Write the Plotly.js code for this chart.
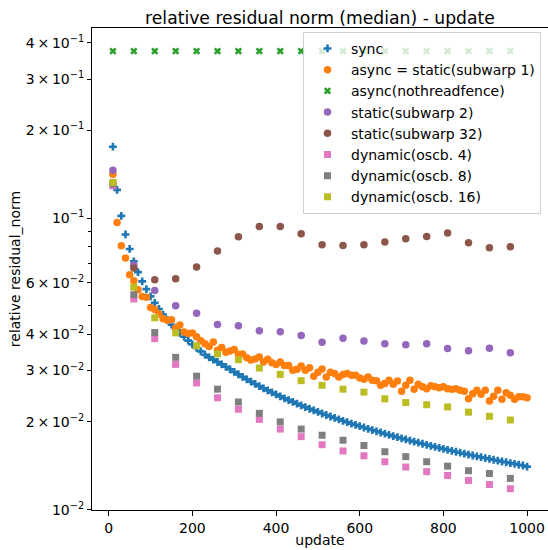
<!DOCTYPE html>
<html>
<head>
<meta charset="utf-8">
<script src="https://cdn.plot.ly/plotly-3.0.1.min.js"></script>
<style>html,body{margin:0;padding:0;background:#fff;}#chart{width:548px;height:550px;}</style>
</head>
<body>
<div id="chart"></div>
<script>
const xDense = [10,20,30,40,50,60,70,80,90,100,110,120,130,140,150,160,170,180,190,200,
210,220,230,240,250,260,270,280,290,300,310,320,330,340,350,360,370,380,390,400,
410,420,430,440,450,460,470,480,490,500,510,520,530,540,550,560,570,580,590,600,
610,620,630,640,650,660,670,680,690,700,710,720,730,740,750,760,770,780,790,800,
810,820,830,840,850,860,870,880,890,900,910,920,930,940,950,960,970,980,990,1000];
const xSparse = [10,60,110,160,210,260,310,360,410,460,510,560,610,660,710,760,810,860,910,960];

const syncVals = [0.1758,0.125,0.1018,0.0879,0.0784,0.0711,0.0653,0.0607,0.0571,0.0539,
0.0512,0.0488,0.0467,0.0448,0.0431,0.0417,0.0404,0.0392,0.0380,0.0369,
0.0359,0.0349,0.0340,0.0333,0.0327,0.0321,0.0315,0.0309,0.0303,0.0297,
0.0291,0.02853,0.02800,0.02748,0.02699,0.02653,0.02607,0.02565,0.02524,0.02484,
0.02446,0.02410,0.02375,0.02342,0.02309,0.02278,0.02248,0.02219,0.02191,0.02164,
0.02137,0.02112,0.02087,0.02063,0.02040,0.02017,0.01995,0.01973,0.01953,0.01933,
0.01913,0.01894,0.01875,0.01857,0.01839,0.01822,0.01805,0.01788,0.01772,0.01756,
0.01741,0.01726,0.01711,0.01697,0.01683,0.01669,0.01655,0.01642,0.01629,0.01616,
0.01604,0.01592,0.01580,0.01568,0.01557,0.01545,0.01534,0.01524,0.01513,0.01503,
0.01493,0.01483,0.01473,0.01463,0.01454,0.01444,0.01435,0.01426,0.01417,0.01405];

const asyncVals = [0.1415,0.0966,0.0804,0.0730,0.0640,0.0610,0.0568,0.0539,0.0535,0.0494,
0.0486,0.0469,0.0452,0.0446,0.0448,0.0420,0.0430,0.0407,0.0402,0.0404,
0.0392,0.0380,0.0371,0.0363,0.0376,0.0352,0.0360,0.0347,0.0350,0.0354,
0.0341,0.0342,0.0332,0.0326,0.0329,0.0334,0.0321,0.0328,0.0319,0.0315,
0.0321,0.0312,0.0312,0.0301,0.0303,0.0311,0.0301,0.0307,0.0287,0.0296,
0.0304,0.0285,0.0296,0.0293,0.0285,0.0291,0.0293,0.0289,0.0289,0.0283,
0.0280,0.0285,0.0278,0.0277,0.0267,0.0271,0.0278,0.0269,0.0276,0.0255,
0.0267,0.0278,0.0259,0.0269,0.0264,0.0260,0.0266,0.0264,0.0262,0.0264,
0.0260,0.0259,0.0260,0.0257,0.0255,0.0240,0.0250,0.0257,0.0249,0.0257,
0.0236,0.0245,0.0257,0.0239,0.0252,0.0247,0.0239,0.0244,0.0244,0.0242];

const noFenceVals = [0.374,0.374,0.374,0.374,0.374,0.374,0.374,0.374,0.374,0.374,
0.374,0.374,0.374,0.374,0.374,0.374,0.374,0.374,0.374,0.374];

const subwarp2Vals = [0.146,0.069,0.0565,0.0501,0.0472,0.0432,0.0427,0.0411,0.0408,0.0396,
0.0375,0.0387,0.0379,0.0371,0.0368,0.0371,0.0357,0.0351,0.0358,0.0345];

const subwarp32Vals = [0.131,0.0674,0.0615,0.0620,0.0680,0.0771,0.0863,0.0936,0.0936,0.0884,
0.0810,0.0806,0.0810,0.0828,0.0850,0.0865,0.0889,0.0823,0.0791,0.0798];

const oscb4Vals = [0.129,0.0528,0.0386,0.0315,0.0272,0.0242,0.0221,0.0204,0.0189,0.0178,
0.0167,0.0159,0.0153,0.0146,0.0140,0.0135,0.0131,0.0126,0.0122,0.0118];

const oscb8Vals = [0.131,0.0546,0.0405,0.0333,0.0287,0.0259,0.0234,0.0214,0.0200,0.0189,
0.0180,0.0173,0.0166,0.0158,0.0152,0.0146,0.0141,0.0136,0.0133,0.0128];

const oscb16Vals = [0.1326,0.0580,0.0455,0.0404,0.0365,0.0342,0.0327,0.0306,0.0291,0.0277,
0.0267,0.0259,0.0253,0.0240,0.0233,0.0229,0.0225,0.0216,0.0209,0.0203];

const seriesNames = ["sync","async = static(subwarp 1)","async(nothreadfence)","static(subwarp 2)",
"static(subwarp 32)","dynamic(oscb. 4)","dynamic(oscb. 8)","dynamic(oscb. 16)"];

const yTickVals = [0.01,0.02,0.03,0.04,0.06,0.1,0.2,0.3,0.4];
const yTickText = ["10<sup>−2</sup>","2\u2009×\u200910<sup>−2</sup>","3\u2009×\u200910<sup>−2</sup>","4\u2009×\u200910<sup>−2</sup>","6\u2009×\u200910<sup>−2</sup>",
"10<sup>−1</sup>","2\u2009×\u200910<sup>−1</sup>","3\u2009×\u200910<sup>−1</sup>","4\u2009×\u200910<sup>−1</sup>"];
const yMinorVals = [0.05,0.07,0.08,0.09];
const xTickVals = [0,200,400,600,800,1000];

function tr(x, y, name, color, symbol, size) {
  return {x: x, y: y, name: name, type: 'scatter', mode: 'markers',
    marker: {color: color, symbol: symbol, size: size, line: {width: 0}}};
}

const data = [
  tr(xDense, syncVals, seriesNames[0], '#1f77b4', 'cross', 6.5),
  tr(xDense, asyncVals, seriesNames[1], '#ff7f0e', 'circle', 7.5),
  tr(xSparse, noFenceVals, seriesNames[2], '#2ca02c', 'x', 6.5),
  tr(xSparse, subwarp2Vals, seriesNames[3], '#9467bd', 'circle', 7.5),
  tr(xSparse, subwarp32Vals, seriesNames[4], '#8c564b', 'circle', 7.5),
  tr(xSparse, oscb4Vals, seriesNames[5], '#e377c2', 'square', 7),
  tr(xSparse, oscb8Vals, seriesNames[6], '#7f7f7f', 'square', 7),
  tr(xSparse, oscb16Vals, seriesNames[7], '#bcbd22', 'square', 7)
];

const fontFam = 'DejaVu Sans, sans-serif';
const layout = {
  width: 548, height: 550,
  margin: {l: 92, r: 0, t: 28, b: 40},
  paper_bgcolor: '#fff', plot_bgcolor: '#fff',
  font: {family: fontFam, size: 14, color: '#000'},
  title: {text: 'relative residual norm (median) - update', font: {family: fontFam, size: 17.2, color: '#000'},
    xref: 'paper', x: 0.5, xanchor: 'center', yref: 'container', y: 1 - 18/550, yanchor: 'middle'},
  xaxis: {
    range: [-40, 1050], showgrid: false, zeroline: false,
    showline: true, linecolor: '#000', linewidth: 1, mirror: true,
    ticks: 'outside', ticklen: 5, tickwidth: 1, tickcolor: '#000',
    tickvals: xTickVals, tickfont: {family: fontFam, size: 14},
    title: {text: 'update', font: {family: fontFam, size: 14}, standoff: 0}
  },
  yaxis: {
    type: 'log', range: [-2.0012, -0.3478], showgrid: false, zeroline: false,
    showline: true, linecolor: '#000', linewidth: 1, mirror: true,
    ticks: 'outside', ticklen: 4, tickwidth: 1, tickcolor: '#000',
    tickvals: yTickVals, ticktext: yTickText, tickfont: {family: fontFam, size: 14},
    minor: {tickvals: yMinorVals, ticks: 'outside', ticklen: 3, tickwidth: 1, tickcolor: '#000', showgrid: false},
    title: {text: 'relative residual_norm', font: {family: fontFam, size: 14}, standoff: 1}
  },
  showlegend: true,
  legend: {x: 0.4627, y: 0.992, xanchor: 'left', yanchor: 'top', itemwidth: 37,
    bgcolor: 'rgba(255,255,255,0.8)', bordercolor: '#d0d0d0', borderwidth: 1,
    font: {family: fontFam, size: 14, color: '#000'}, tracegroupgap: 0}
};

Plotly.newPlot('chart', data, layout, {displayModeBar: false, staticPlot: true});
</script>
</body>
</html>
